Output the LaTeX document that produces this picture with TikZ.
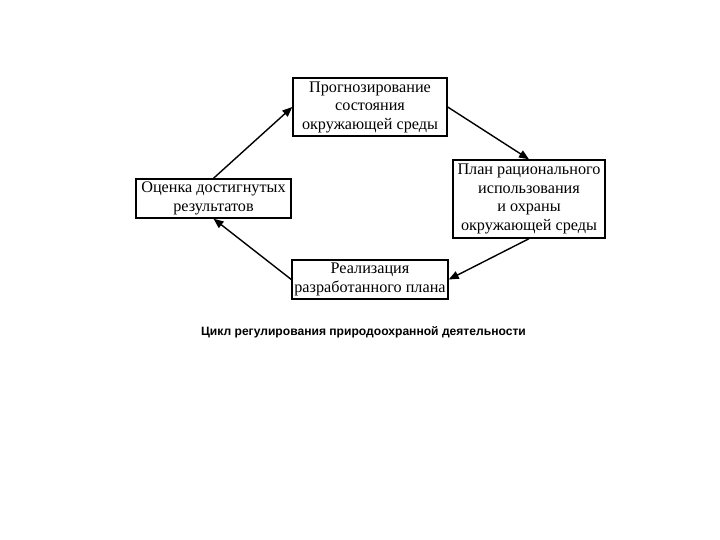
\documentclass[tikz,border=0pt]{standalone}
\usepackage{fontspec}
\setmainfont{Liberation Serif}
\newfontfamily\capfont{Liberation Sans}
\usetikzlibrary{arrows.meta}
\begin{document}
\begin{tikzpicture}[x=1pt,y=-1pt,
  box/.style={draw=black, line width=1.4pt, fill=white, align=center, inner sep=0pt,
    font=\fontsize{16.2}{18.5}\selectfont},
  arr/.style={draw=black, line width=1.4pt, -{Triangle[length=10pt,width=8pt]}}]
\useasboundingbox[fill=white] (0,0) rectangle (720,540);
\node[box, minimum width=154pt, minimum height=58pt] (b1) at (370,107) {Прогнозирование\\состояния\\окружающей среды};
\node[box, minimum width=152pt, minimum height=78pt] (b2) at (529,199) {План рационального\\использования\\и охраны\\окружающей среды};
\node[box, minimum width=155pt, minimum height=39pt] (b3) at (213.5,198.5) {Оценка достигнутых\\результатов};
\node[box, minimum width=156pt, minimum height=39pt] (b4) at (370,279.5) {Реализация\\разработанного плана};
\draw[arr] (b3.north) -- (b1.west);
\draw[arr] (b1.east) -- (b2.north);
\draw[arr] (b2.south) -- (b4.east);
\draw[arr] (b4.west) -- (b3.south);
\node[font=\capfont\bfseries\fontsize{12.1}{14}\selectfont, inner sep=0pt] (cap) at (363.5,332) {Цикл регулирования природоохранной деятельности};
\end{tikzpicture}
\end{document}
